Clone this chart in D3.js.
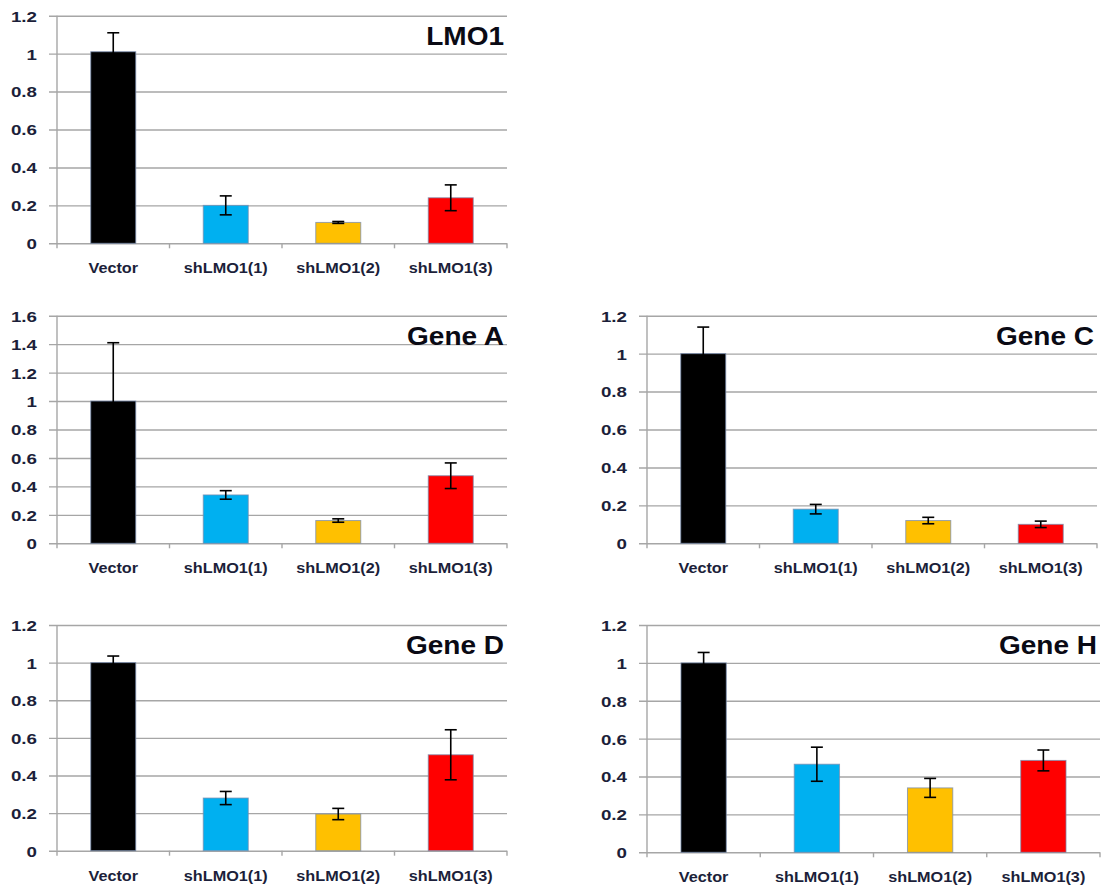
<!DOCTYPE html>
<html>
<head>
<meta charset="utf-8">
<script src="https://cdn.jsdelivr.net/npm/d3@7"></script>
<style>
  html, body { margin: 0; padding: 0; background: #fff; }
  svg { display: block; }
</style>
</head>
<body>
<svg id="chart" width="1101" height="889"></svg>
<script>
// ---------- data ----------
const categories = ["Vector", "shLMO1(1)", "shLMO1(2)", "shLMO1(3)"];
const barColors = ["#000000", "#00b0f0", "#ffc000", "#ff0000"];

const titles = ["LMO1", "Gene A", "Gene C", "Gene D", "Gene H"];

const lmo1Values  = [1.01, 0.20, 0.11, 0.24];
const lmo1Errors  = [0.10, 0.05, 0.005, 0.068];

const geneAValues = [1.00, 0.34, 0.16, 0.475];
const geneAErrors = [0.41, 0.03, 0.012, 0.09];

const geneCValues = [1.00, 0.18, 0.12, 0.10];
const geneCErrors = [0.14, 0.025, 0.017, 0.017];

const geneDValues = [1.00, 0.28, 0.195, 0.51];
const geneDErrors = [0.035, 0.035, 0.03, 0.133];

const geneHValues = [1.00, 0.465, 0.34, 0.485];
const geneHErrors = [0.055, 0.09, 0.05, 0.055];

const yTicks12 = [0, 0.2, 0.4, 0.6, 0.8, 1, 1.2];
const yTicks16 = [0, 0.2, 0.4, 0.6, 0.8, 1, 1.2, 1.4, 1.6];

// ---------- layout (pixel boxes of each panel's plot area) ----------
const panels = [
  { title: titles[0], values: lmo1Values,  errors: lmo1Errors,  ticks: yTicks12, x0: 57,  x1: 507,  yTop: 15.7,  yBot: 243.3 },
  { title: titles[1], values: geneAValues, errors: geneAErrors, ticks: yTicks16, x0: 57,  x1: 507,  yTop: 315.7, yBot: 543.3 },
  { title: titles[2], values: geneCValues, errors: geneCErrors, ticks: yTicks12, x0: 647, x1: 1097, yTop: 315.7, yBot: 543.3 },
  { title: titles[3], values: geneDValues, errors: geneDErrors, ticks: yTicks12, x0: 57,  x1: 507,  yTop: 625,   yBot: 850.7 },
  { title: titles[4], values: geneHValues, errors: geneHErrors, ticks: yTicks12, x0: 647, x1: 1100, yTop: 625,   yBot: 852.3 }
];

const svg = d3.select("#chart");
const gridColor = "#a6a6a6";
const labelColor = "#1c1f3a";
const font = "'Liberation Sans', Arial, sans-serif";

panels.forEach(p => {
  const g = svg.append("g");
  const yMax = p.ticks[p.ticks.length - 1];
  const y = d3.scaleLinear().domain([0, yMax]).range([p.yBot, p.yTop]);
  const x = d3.scaleBand().domain(categories).range([p.x0, p.x1])
    .paddingInner(0.6).paddingOuter(0.3);
  const w = p.x1 - p.x0;

  // gridlines + y labels
  const yAxis = d3.axisLeft(y).tickValues(p.ticks).tickSize(-w).tickPadding(20)
    .tickFormat(d => String(d));
  const ya = g.append("g").attr("transform", `translate(${p.x0},0)`).call(yAxis);
  ya.select(".domain").remove();
  ya.selectAll(".tick line")
    .attr("x1", -8)
    .attr("stroke", gridColor)
    .attr("stroke-width", 1.4);
  ya.selectAll(".tick text")
    .attr("x", 0)
    .attr("dy", "0.36em")
    .attr("transform", "translate(-20,0) scale(1.25,1)")
    .attr("fill", labelColor)
    .style("font-family", font)
    .style("font-weight", "bold")
    .style("font-size", "15px");

  // y axis line
  g.append("line")
    .attr("x1", p.x0).attr("x2", p.x0)
    .attr("y1", p.yTop).attr("y2", p.yBot)
    .attr("stroke", gridColor).attr("stroke-width", 1.4);

  // x axis: tick marks at band boundaries
  const bounds = categories.map(c => x(c) - x.step() * x.paddingInner() / 2);
  bounds[0] = p.x0;
  bounds.push(p.x1);
  g.selectAll(".xtick").data(bounds).enter().append("line")
    .attr("x1", d => d).attr("x2", d => d)
    .attr("y1", p.yBot).attr("y2", p.yBot + 5)
    .attr("stroke", gridColor).attr("stroke-width", 1.4);

  // x category labels
  const xAxis = d3.axisBottom(x).tickSize(0).tickPadding(0);
  const xa = g.append("g").attr("transform", `translate(0,${p.yBot})`).call(xAxis);
  xa.select(".domain").remove();
  xa.selectAll(".tick text")
    .attr("y", 0).attr("dy", 0)
    .attr("transform", "translate(0,30) scale(1.12,1)")
    .attr("fill", labelColor)
    .style("font-family", font)
    .style("font-weight", "bold")
    .style("font-size", "14.5px");

  // bars
  g.selectAll(".bar").data(p.values).enter().append("rect")
    .attr("x", (d, i) => x(categories[i]))
    .attr("width", x.bandwidth())
    .attr("y", d => y(d))
    .attr("height", d => y(0) - y(d))
    .attr("fill", (d, i) => barColors[i])
    .attr("stroke", "rgba(120,140,175,0.75)")
    .attr("stroke-width", 1);

  // error bars
  const capHalf = 6;
  p.values.forEach((v, i) => {
    const cx = x(categories[i]) + x.bandwidth() / 2;
    const e = p.errors[i];
    const yHi = y(v + e), yLo = y(v - e);
    const eg = g.append("g").attr("stroke", "#000").attr("stroke-width", 1.6);
    eg.append("line").attr("x1", cx).attr("x2", cx).attr("y1", yHi).attr("y2", yLo);
    eg.append("line").attr("x1", cx - capHalf).attr("x2", cx + capHalf).attr("y1", yHi).attr("y2", yHi);
    eg.append("line").attr("x1", cx - capHalf).attr("x2", cx + capHalf).attr("y1", yLo).attr("y2", yLo);
  });

  // title
  g.append("text")
    .attr("transform", `translate(${p.x1 - 3},${p.yTop + 29}) scale(1.12,1)`)
    .attr("text-anchor", "end")
    .attr("fill", "#0a0a14")
    .style("font-family", font)
    .style("font-weight", "bold")
    .style("font-size", "25px")
    .text(p.title);
});
</script>
</body>
</html>
